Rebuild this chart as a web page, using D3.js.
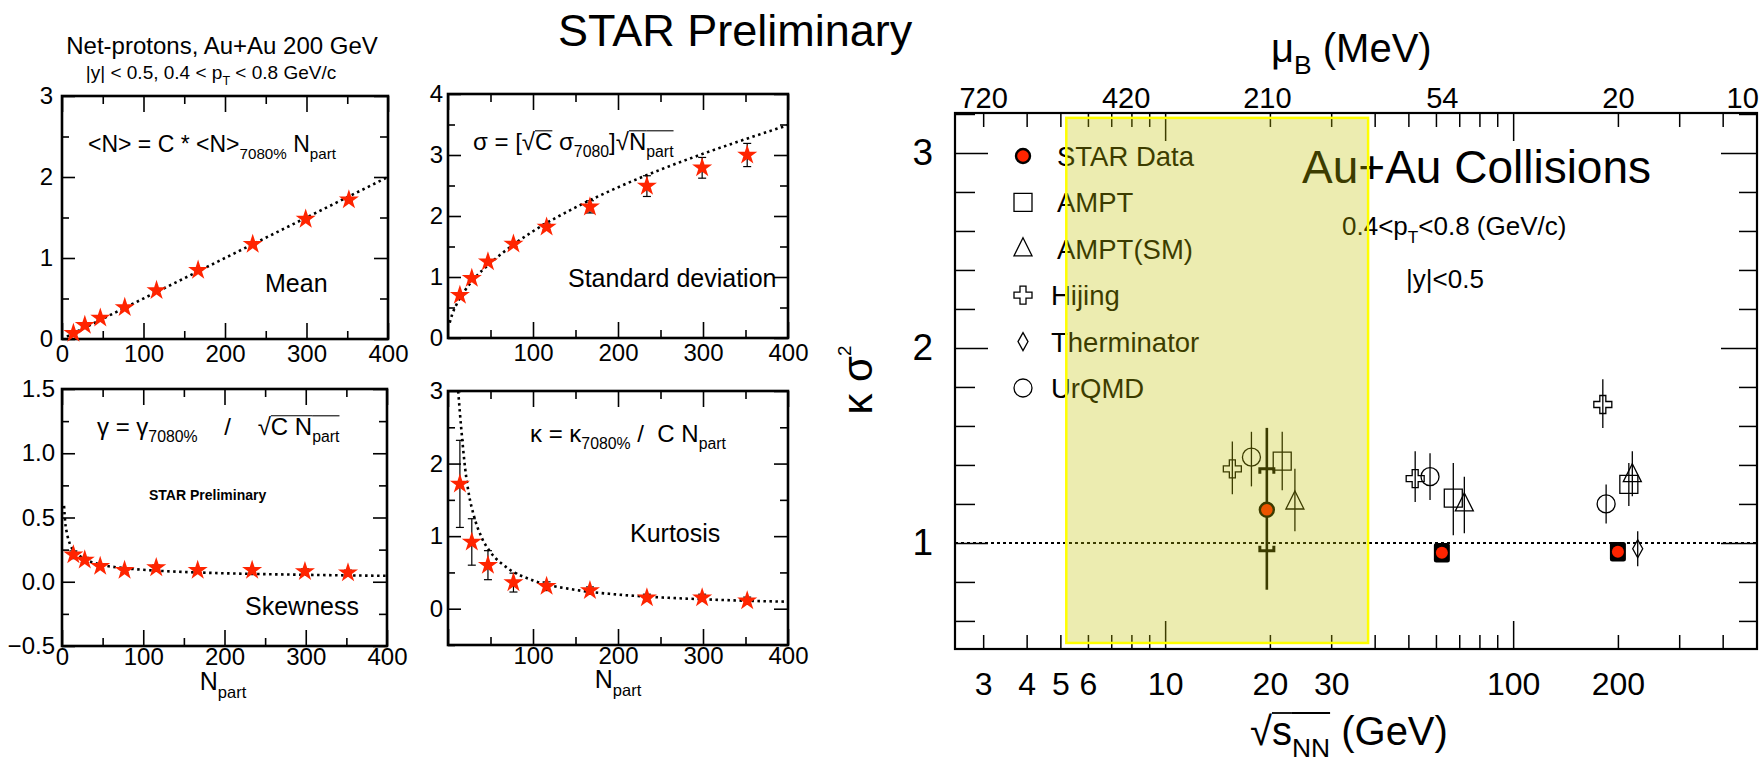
<!DOCTYPE html>
<meta charset="utf-8">
<html>
<head>
<title>STAR net-proton moments</title>
<script src="https://cdn.jsdelivr.net/npm/d3@7"></script>
<style>
  body { margin: 0; background: #fff; }
  text { font-family: "Liberation Sans", Arial, sans-serif; fill: #000; white-space: pre; }
</style>
</head>
<body>
<svg id="chart" width="1764" height="758"></svg>
<script>
// ---------- left panels: moments vs Npart ----------
const nPart    = [14, 28, 47, 77, 116, 167, 234, 299, 352];
const meanVals = [0.07, 0.17, 0.26, 0.39, 0.60, 0.85, 1.17, 1.48, 1.72];
const meanErr  = [0.01, 0.01, 0.01, 0.01, 0.01, 0.01, 0.02, 0.02, 0.02];
const stdVals  = [0.70, 0.98, 1.25, 1.54, 1.82, 2.15, 2.49, 2.79, 3.00];
const stdErr   = [0.02, 0.03, 0.03, 0.04, 0.05, 0.10, 0.17, 0.17, 0.19];
const skewVals = [0.21, 0.17, 0.12, 0.09, 0.11, 0.09, 0.09, 0.08, 0.07];
const skewErr  = [0.03, 0.02, 0.02, 0.02, 0.02, 0.02, 0.02, 0.02, 0.02];
const kurtVals = [1.72, 0.92, 0.60, 0.36, 0.31, 0.25, 0.15, 0.15, 0.11];
const kurtErr  = [0.60, 0.32, 0.20, 0.13, 0.06, 0.05, 0.05, 0.05, 0.05];

// dotted reference curves
const meanFit = [[6, 0.03], [400, 2.0]];
const stdFit  = [[2, 0.25], [5, 0.39], [10, 0.55], [20, 0.78], [30, 0.96], [50, 1.23], [75, 1.51],
                 [100, 1.75], [150, 2.14], [200, 2.47], [250, 2.76], [300, 3.02], [350, 3.26], [400, 3.49]];
const skewFit = [[2.5, 0.59], [4, 0.46], [6, 0.38], [10, 0.29], [15, 0.24], [20, 0.21], [30, 0.17],
                 [50, 0.13], [75, 0.107], [100, 0.093], [150, 0.076], [200, 0.066], [300, 0.054], [400, 0.046]];
const kurtFit = [[12, 3.0], [14, 2.7], [17, 2.3], [20, 1.95], [25, 1.55], [30, 1.3], [40, 0.97], [50, 0.78],
                 [70, 0.56], [100, 0.39], [150, 0.26], [200, 0.195], [250, 0.156], [300, 0.13], [350, 0.11], [400, 0.097]];

// ---------- right panel: kappa*sigma^2 vs sqrt(sNN) ----------
const starE   = [19.6, 62.4, 200];
const starK   = [1.17, 0.95, 0.955];
const starLo  = [0.76, 0.93, 0.935];
const starHi  = [1.59, 0.97, 0.975];
const starSys = [0.21, 0.05, 0.05];

const amptE = [21.7, 67.3, 215],  amptK = [1.42, 1.23, 1.30], amptLo = [1.27, 1.04, 1.19], amptHi = [1.57, 1.41, 1.41];
const smE   = [23.6, 72.4, 220],  smK   = [1.21, 1.20, 1.35], smLo   = [1.06, 1.05, 1.24], smHi   = [1.38, 1.34, 1.47];
const hijE  = [15.6, 52.3, 181],  hijK  = [1.38, 1.33, 1.71], hijLo  = [1.25, 1.21, 1.59], hijHi  = [1.52, 1.47, 1.84];
const therE = [228],              therK = [0.97],             therLo = [0.88],             therHi = [1.06];
const urqE  = [17.7, 57.7, 185],  urqK  = [1.44, 1.34, 1.20], urqLo  = [1.29, 1.22, 1.10], urqHi  = [1.57, 1.46, 1.30];

const legendNames = ["STAR Data", "AMPT", "AMPT(SM)", "Hijing", "Therminator", "UrQMD"];
const legendKinds = ["star", "square", "triangle", "cross", "diamond", "circle"];

const energyTicks = [3, 4, 5, 6, 7, 8, 9, 20, 30, 40, 50, 60, 70, 80, 90, 200, 300, 400];
const energyLong  = [10, 100];
const energyLabels = [3, 4, 5, 6, 10, 20, 30, 100, 200];
const muPos    = [3, 7.7, 19.6, 62.4, 200, 455];
const muLabels = ["720", "420", "210", "54", "20", "10"];
const bandE = [5.2, 38.3];
const bandK = [0.487, 3.18];

const svg = d3.select("#chart");
svg.append("rect").attr("width", 1764).attr("height", 758).attr("fill", "#fff");

// text made of pieces (sub/superscripts, overlines)
function rich(parent, x, y, fs, segs, anchor, rot) {
  const outer = parent.append("g");
  const g = outer.append("g");
  let cx = 0;
  segs.forEach(s => {
    if (typeof s === "string") s = {t: s};
    const f = s.sub ? fs * 0.66 : s.sup ? fs * 0.45 : fs;
    const dy = s.sub ? fs * 0.3 : s.sup ? -fs * 0.5 : 0;
    const t = g.append("text").attr("x", cx).attr("y", dy).attr("font-size", f)
      .attr("font-weight", s.bold ? "bold" : null).text(s.t);
    const w = t.node().getComputedTextLength();
    if (s.ov) g.append("line").attr("x1", cx).attr("x2", cx + w)
      .attr("y1", -fs * 0.8).attr("y2", -fs * 0.8).attr("stroke", "#000").attr("stroke-width", Math.max(1, fs * 0.045));
    cx += w;
  });
  const shift = anchor === "middle" ? -cx / 2 : anchor === "end" ? -cx : 0;
  g.attr("transform", `translate(${shift},0)`);
  outer.attr("transform", `translate(${x},${y})` + (rot ? ` rotate(${rot})` : ""));
  return outer;
}

function ticks(g, axis, vals, len, tr, sw) {
  g.append("g").attr("transform", tr)
    .call(axis.tickValues(vals).tickSizeInner(-len).tickSizeOuter(0).tickFormat(""))
    .call(a => a.select(".domain").remove())
    .selectAll("line").attr("stroke", "#000").attr("stroke-width", sw || 1.6);
}
function labels(g, axis, vals, fmt, pad, fs, tr) {
  g.append("g").attr("transform", tr)
    .call(axis.tickValues(vals).tickSize(0).tickPadding(pad).tickFormat(fmt))
    .attr("font-size", fs)
    .call(a => a.select(".domain").remove())
    .selectAll("text").attr("fill", "#000");
}

const starSym = d3.symbol().type(d3.symbolStar).size(125);

function leftPanel(p) {
  const x = d3.scaleLinear().domain([0, 400]).range([p.l, p.r]);
  const y = d3.scaleLinear().domain(p.ydom).range([p.b, p.t]);
  const g = svg.append("g");
  const xMaj = [0, 100, 200, 300, 400], xMin = [50, 150, 250, 350];
  ticks(g, d3.axisBottom(x), xMaj, 16, `translate(0,${p.b})`);
  ticks(g, d3.axisBottom(x), xMin, 8, `translate(0,${p.b})`);
  ticks(g, d3.axisTop(x), xMaj, 16, `translate(0,${p.t})`);
  ticks(g, d3.axisTop(x), xMin, 8, `translate(0,${p.t})`);
  ticks(g, d3.axisLeft(y), p.yMaj, 13, `translate(${p.l},0)`);
  ticks(g, d3.axisLeft(y), p.yMin, 7, `translate(${p.l},0)`);
  ticks(g, d3.axisRight(y), p.yMaj, 14, `translate(${p.r},0)`);
  ticks(g, d3.axisRight(y), p.yMin, 8, `translate(${p.r},0)`);
  labels(g, d3.axisBottom(x), p.xLab, d3.format("d"), p.xPad, 24, `translate(0,${p.b})`);
  labels(g, d3.axisLeft(y), p.yMaj, p.yFmt, p.yPad, 24, `translate(${p.l},0)`);
  g.append("rect").attr("x", p.l).attr("y", p.t).attr("width", p.r - p.l).attr("height", p.b - p.t)
    .attr("fill", "none").attr("stroke", "#000").attr("stroke-width", 2.6);

  g.append("path").datum(p.fit)
    .attr("d", d3.line().x(d => x(d[0])).y(d => y(d[1])).curve(d3.curveMonotoneX))
    .attr("fill", "none").attr("stroke", "#000").attr("stroke-width", 2.6).attr("stroke-dasharray", "2.5,3.5");

  const pts = nPart.map((n, i) => ({n, v: p.vals[i], e: p.err[i]}));
  const eb = g.append("g").attr("stroke", "#000").attr("stroke-width", 1.2);
  pts.forEach(d => {
    eb.append("line").attr("x1", x(d.n)).attr("x2", x(d.n)).attr("y1", y(d.v - d.e)).attr("y2", y(d.v + d.e));
    [d.v - d.e, d.v + d.e].forEach(v => eb.append("line")
      .attr("x1", x(d.n) - 4).attr("x2", x(d.n) + 4).attr("y1", y(v)).attr("y2", y(v)));
  });
  g.selectAll(".star").data(pts).join("path")
    .attr("d", starSym).attr("fill", "#ff2400")
    .attr("transform", d => `translate(${x(d.n)},${y(d.v)})`);
  return {x, y, g};
}

const f1 = d3.format(".1f");
leftPanel({l: 62, r: 388, t: 96, b: 339, ydom: [0, 3], yMaj: [0, 1, 2, 3], yMin: [0.5, 1.5, 2.5],
  yFmt: d3.format("d"), xLab: [0, 100, 200, 300, 400], xPad: 6, yPad: 9,
  vals: meanVals, err: meanErr, fit: meanFit});
leftPanel({l: 448, r: 788, t: 94, b: 338, ydom: [0, 4], yMaj: [0, 1, 2, 3, 4], yMin: [0.5, 1.5, 2.5, 3.5],
  yFmt: d3.format("d"), xLab: [100, 200, 300, 400], xPad: 6, yPad: 5,
  vals: stdVals, err: stdErr, fit: stdFit});
leftPanel({l: 62, r: 387, t: 389, b: 646, ydom: [-0.5, 1.5], yMaj: [-0.5, 0, 0.5, 1, 1.5],
  yMin: [-0.25, 0.25, 0.75, 1.25], yFmt: f1, xLab: [0, 100, 200, 300, 400], xPad: 2, yPad: 7,
  vals: skewVals, err: skewErr, fit: skewFit});
leftPanel({l: 448, r: 788, t: 391, b: 645, ydom: [-0.5, 3], yMaj: [0, 1, 2, 3], yMin: [-0.5, 0.5, 1.5, 2.5],
  yFmt: d3.format("d"), xLab: [100, 200, 300, 400], xPad: 2, yPad: 5,
  vals: kurtVals, err: kurtErr, fit: kurtFit});

// left panel texts
rich(svg, 222, 54, 24, ["Net-protons, Au+Au 200 GeV"], "middle");
rich(svg, 211, 79, 19, ["|y| < 0.5, 0.4 < p", {t: "T", sub: true}, " < 0.8 GeV/c"], "middle");
rich(svg, 88, 152, 23, ["<N> = C * <N>", {t: "7080%", sub: true}, " N", {t: "part", sub: true}]);
rich(svg, 265, 292, 25, ["Mean"]);
rich(svg, 473, 150, 24, ["σ = [", "√", {t: "C", ov: true}, " σ", {t: "7080", sub: true}, "]", "√",
  {t: "N", ov: true}, {t: "part", sub: true, ov: true}]);
rich(svg, 568, 287, 25, ["Standard deviation"]);
rich(svg, 97, 435, 24, ["γ = γ", {t: "7080%", sub: true}, "    /    ", "√", {t: "C N", ov: true},
  {t: "part", sub: true, ov: true}]);
rich(svg, 149, 500, 14, [{t: "STAR Preliminary", bold: true}]);
rich(svg, 245, 615, 25, ["Skewness"]);
rich(svg, 223, 690, 25, ["N", {t: "part", sub: true}], "middle");
rich(svg, 530, 442, 24, ["κ = κ", {t: "7080%", sub: true}, " /  C N", {t: "part", sub: true}]);
rich(svg, 630, 542, 25, ["Kurtosis"]);
rich(svg, 618, 688, 25, ["N", {t: "part", sub: true}], "middle");
rich(svg, 558, 46, 45, ["STAR Preliminary"]);

// ---------- right panel ----------
const R = {l: 955, r: 1757, t: 113, b: 649};
const xE = d3.scaleLog().domain([2.49, 502]).range([R.l, R.r]);
const yK = d3.scaleLinear().domain([0.456, 3.205]).range([R.b, R.t]);
const rg = svg.append("g");

ticks(rg, d3.axisBottom(xE), energyTicks, 14, `translate(0,${R.b})`, 1.5);
ticks(rg, d3.axisBottom(xE), energyLong, 28, `translate(0,${R.b})`, 1.5);
ticks(rg, d3.axisTop(xE), energyTicks, 14, `translate(0,${R.t})`, 1.5);
ticks(rg, d3.axisTop(xE), energyLong, 28, `translate(0,${R.t})`, 1.5);
const kMaj = [1, 2, 3];
const kMin = d3.range(6, 33, 2).map(v => v / 10).filter(v => !kMaj.includes(v));
ticks(rg, d3.axisLeft(yK), kMaj, 33, `translate(${R.l},0)`, 1.5);
ticks(rg, d3.axisLeft(yK), kMin, 20, `translate(${R.l},0)`, 1.5);
ticks(rg, d3.axisRight(yK), kMaj, 36, `translate(${R.r},0)`, 1.5);
ticks(rg, d3.axisRight(yK), kMin, 18, `translate(${R.r},0)`, 1.5);
labels(rg, d3.axisBottom(xE), energyLabels, d3.format("d"), 23, 32, `translate(0,${R.b})`);
labels(rg, d3.axisTop(xE), muPos, (d, i) => muLabels[i], 5, 29, `translate(0,${R.t})`);
labels(rg, d3.axisLeft(yK), kMaj, d3.format("d"), 22, 37, `translate(${R.l},0)`);
rg.append("rect").attr("x", R.l).attr("y", R.t).attr("width", R.r - R.l).attr("height", R.b - R.t)
  .attr("fill", "none").attr("stroke", "#000").attr("stroke-width", 2.2);

// reference line at 1
rg.append("line").attr("x1", R.l).attr("x2", R.r).attr("y1", yK(1)).attr("y2", yK(1))
  .attr("stroke", "#000").attr("stroke-width", 2).attr("stroke-dasharray", "3,3");

function marker(g, kind, cx, cy) {
  const m = g.append("path").attr("transform", `translate(${cx},${cy})`)
    .attr("fill", "none").attr("stroke", "#000").attr("stroke-width", 1.3);
  if (kind === "square") m.attr("d", "M-9,-9H9V9H-9Z");
  else if (kind === "triangle") m.attr("d", "M0,-11L9,7H-9Z");
  else if (kind === "cross") m.attr("d", "M-3,-9H3V-3H9V3H3V9H-3V3H-9V-3H-3Z");
  else if (kind === "diamond") m.attr("d", "M0,-9L5,0L0,9L-5,0Z");
  else if (kind === "circle") m.attr("d", d3.arc()({innerRadius: 0, outerRadius: 9, startAngle: 0, endAngle: 2 * Math.PI}));
  else if (kind === "star") m.attr("d", d3.arc()({innerRadius: 0, outerRadius: 7, startAngle: 0, endAngle: 2 * Math.PI}))
    .attr("fill", "#ff2400").attr("stroke-width", 2.4);
}

const models = [
  {kind: "square", e: amptE, k: amptK, lo: amptLo, hi: amptHi},
  {kind: "triangle", e: smE, k: smK, lo: smLo, hi: smHi},
  {kind: "cross", e: hijE, k: hijK, lo: hijLo, hi: hijHi},
  {kind: "diamond", e: therE, k: therK, lo: therLo, hi: therHi},
  {kind: "circle", e: urqE, k: urqK, lo: urqLo, hi: urqHi}
];
models.forEach(m => m.e.forEach((e, i) => {
  rg.append("line").attr("x1", xE(e)).attr("x2", xE(e)).attr("y1", yK(m.lo[i])).attr("y2", yK(m.hi[i]))
    .attr("stroke", "#000").attr("stroke-width", 1.3);
  marker(rg, m.kind, xE(e), yK(m.k[i]));
}));

// STAR points with systematics
starE.forEach((e, i) => {
  const cx = xE(e);
  if (i === 0) {
    rg.append("line").attr("x1", cx).attr("x2", cx).attr("y1", yK(starLo[i])).attr("y2", yK(starHi[i]))
      .attr("stroke", "#000").attr("stroke-width", 2.6);
    const top = yK(starK[i] + starSys[i]), bot = yK(starK[i] - starSys[i]);
    rg.append("path").attr("d", `M${cx - 7},${top + 5}V${top}H${cx + 7}V${top + 5}`)
      .attr("fill", "none").attr("stroke", "#000").attr("stroke-width", 3);
    rg.append("path").attr("d", `M${cx - 7},${bot - 5}V${bot}H${cx + 7}V${bot - 5}`)
      .attr("fill", "none").attr("stroke", "#000").attr("stroke-width", 3);
    marker(rg, "star", cx, yK(starK[i]));
  } else {
    const top = yK(starK[i] + starSys[i]), bot = yK(starK[i] - starSys[i]);
    rg.append("rect").attr("x", cx - 8).attr("y", top).attr("width", 16).attr("height", bot - top)
      .attr("rx", 2.5).attr("fill", "#000");
    rg.append("circle").attr("cx", cx).attr("cy", yK(starK[i])).attr("r", 6).attr("fill", "#ff2400");
  }
});

// legend
const legY = d3.scalePoint().domain(legendNames).range([156, 388]);
legendNames.forEach((name, i) => {
  marker(rg, legendKinds[i], 1023, legY(name));
  rich(rg, i < 3 ? 1057 : 1051, legY(name) + 10, 27.5, [name]);
});

// annotations
rich(svg, 1302, 183, 46, ["Au+Au Collisions"]);
rich(svg, 1342, 235, 26, ["0.4<p", {t: "T", sub: true}, "<0.8 (GeV/c)"]);
rich(svg, 1406, 288, 26, ["|y|<0.5"]);
rich(svg, 1271, 62, 40, ["μ", {t: "B", sub: true}, " (MeV)"]);
rich(svg, 1250, 745, 40, ["√", {t: "s", ov: true}, {t: "NN", sub: true, ov: true}, " (GeV)"]);
rich(svg, 872, 380, 42, ["κ σ", {t: "2", sup: true}], "middle", -90);

// shaded energy range drawn over everything in the panel
rg.append("rect")
  .attr("x", xE(bandE[0])).attr("y", yK(bandK[1]))
  .attr("width", xE(bandE[1]) - xE(bandE[0])).attr("height", yK(bandK[0]) - yK(bandK[1]))
  .attr("fill", "rgb(194,194,0)").attr("fill-opacity", 0.31)
  .attr("stroke", "#ffff00").attr("stroke-width", 2.5);
svg.node().appendChild(rg.node());
</script>
</body>
</html>
